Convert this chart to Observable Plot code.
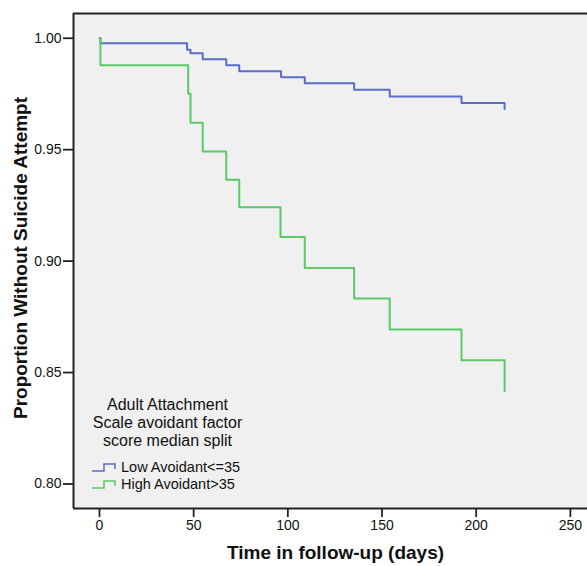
<!DOCTYPE html>
<html><head><meta charset="utf-8">
<script src="https://cdn.jsdelivr.net/npm/d3@7"></script>
<script src="https://cdn.jsdelivr.net/npm/@observablehq/plot@0.6"></script>
<style>
body{margin:0;background:#fff;}
#wrap{position:relative;width:587px;height:566px;overflow:hidden;}
#legend{position:absolute;left:0;top:0;font-family:"Liberation Sans",Arial,sans-serif;color:#111;}
#ltitle{position:absolute;left:80px;top:396px;width:175px;text-align:center;font-size:16px;line-height:18px;white-space:nowrap;}
.entry{position:absolute;left:91px;font-size:14.5px;line-height:16px;white-space:nowrap;display:flex;align-items:center;}
.entry svg{margin-right:3px;}
</style></head><body><div id="wrap"></div>
<script>
const lowDays  = [0, 0.5, 46.5, 48.3, 54.8, 67.3, 74.2, 96.4, 109.0, 135.2, 154.1, 192.2, 215.1];
const lowSurv  = [1.0, 0.9978, 0.9948, 0.9933, 0.9906, 0.9879, 0.9852, 0.9825, 0.9798, 0.9769, 0.9739, 0.9709, 0.9683];
const highDays = [0, 0.5, 47.1, 48.3, 54.8, 67.3, 74.2, 96.1, 109.0, 135.2, 154.1, 192.2, 215.1];
const highSurv = [1.0, 0.9879, 0.9751, 0.9621, 0.9492, 0.9365, 0.9242, 0.9108, 0.8969, 0.8832, 0.8693, 0.8555, 0.8417];
const seriesNames = ["Low Avoidant<=35", "High Avoidant>35"];
const seriesColors = ["#5a6ec8", "#5cc867"];
const legendTitle = ["Adult Attachment", "Scale avoidant factor", "score median split"];
const xTicks = [0, 50, 100, 150, 200, 250];
const yTicks = [0.80, 0.85, 0.90, 0.95, 1.00];
const xLabel = "Time in follow-up (days)";
const yLabel = "Proportion Without Suicide Attempt";
const xDomain = [-13.8, 259.1];
const yDomain = [0.789, 1.0111];

const data = [
  ...lowDays.map((d, i) => ({day: d, surv: lowSurv[i], group: seriesNames[0]})),
  ...highDays.map((d, i) => ({day: d, surv: highSurv[i], group: seriesNames[1]}))
];

const axisColor = "#222";
const chart = Plot.plot({
  width: 587, height: 566,
  marginLeft: 73, marginTop: 13, marginBottom: 58, marginRight: 0,
  style: {background: "#fff", fontFamily: "'Liberation Sans', Arial, sans-serif", fontSize: "14px", color: "#111"},
  x: {domain: xDomain},
  y: {domain: yDomain},
  color: {domain: seriesNames, range: seriesColors},
  marks: [
    Plot.frame({fill: "#f0f0f0", stroke: null}),
    Plot.line(data, {x: "day", y: "surv", z: "group", stroke: "group", curve: "step-after", strokeWidth: 2}),
    Plot.ruleX([xDomain[0]], {stroke: axisColor, strokeWidth: 2}),
    Plot.ruleY([yDomain[0], yDomain[1]], {stroke: axisColor, strokeWidth: 2}),
    Plot.axisY({ticks: yTicks, tickFormat: d3.format(".2f"), tickSize: 10, tickPadding: 2, anchor: "left", label: null, stroke: axisColor, strokeWidth: 1.8, fontSize: 14}),
    Plot.axisX({ticks: xTicks, tickFormat: d3.format("d"), tickSize: 9, tickPadding: 3, anchor: "bottom", label: null, stroke: axisColor, strokeWidth: 1.8, fontSize: 14}),
    Plot.text([yLabel], {frameAnchor: "left", textAnchor: "middle", dx: -53, dy: -3, rotate: -90, fontWeight: "bold", fontSize: 19, fontFamily: "'Liberation Sans', Arial, sans-serif", fill: "#111"}),
    Plot.text([xLabel], {frameAnchor: "bottom", dx: 5, dy: 50, fontWeight: "bold", fontSize: 19, fontFamily: "'Liberation Sans', Arial, sans-serif", fill: "#111"})
  ]
});
const wrap = document.getElementById("wrap");
wrap.appendChild(chart);

const legend = document.createElement("div");
legend.id = "legend";
const lt = document.createElement("div");
lt.id = "ltitle";
lt.innerHTML = legendTitle.join("<br>");
legend.appendChild(lt);
const entryTops = [459, 476];
seriesNames.forEach((name, i) => {
  const e = document.createElement("div");
  e.className = "entry";
  e.style.top = entryTops[i] + "px";
  e.innerHTML = `<svg width="27" height="12"><path d="M1,10 H13 V3 H24 V8" fill="none" stroke="${seriesColors[i]}" stroke-width="1.5"/></svg><span>${name}</span>`;
  legend.appendChild(e);
});
wrap.appendChild(legend);
</script>
</body></html>
